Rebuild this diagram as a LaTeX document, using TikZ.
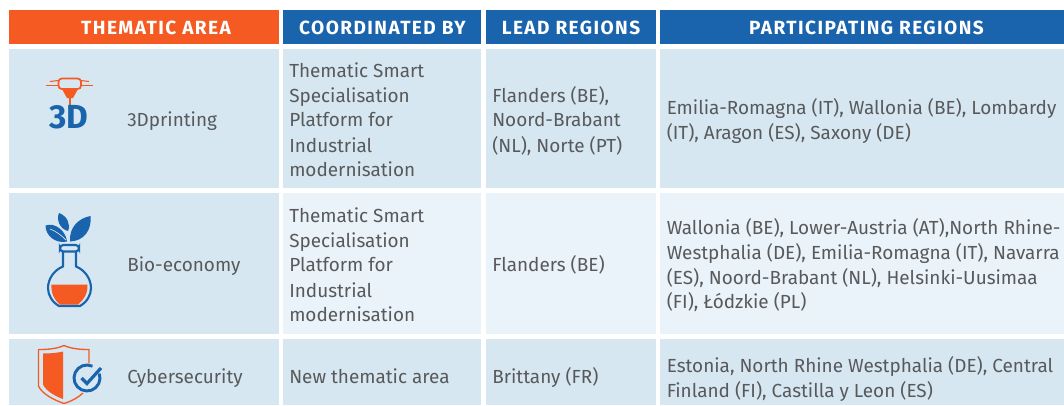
\documentclass[tikz,border=0pt]{standalone}
\usepackage{fontspec}
\setmainfont{Fira Sans}
\newfontfamily\hdrfont[LetterSpace=7.5]{Fira Sans}
\usetikzlibrary{calc}
\definecolor{eorange}{HTML}{F45A22}
\definecolor{eblue}{HTML}{1A63AD}
\definecolor{cella}{HTML}{D6E7F2}
\definecolor{cellb}{HTML}{EAF3F9}
\definecolor{txt}{HTML}{58595B}
\tikzset{
  x=0.75pt,y=-0.75pt,
  hdrbox/.style={fill=#1,draw=none},
  cell/.style={fill=#1,draw=none},
  hdrtext/.style={anchor=base,inner sep=0pt,text=white,font=\hdrfont\bfseries\fontsize{14.3}{16}\selectfont},
  body/.style={anchor=base west,inner sep=0pt,yshift=-0.4pt,text=txt,font=\fontsize{14.2}{16}\selectfont},
  oline/.style={draw=eorange,line width=1.3pt,fill=none},
  bline/.style={draw=eblue,line width=1.6pt,fill=none},
}
\begin{document}
\begin{tikzpicture}
\useasboundingbox (0,0) rectangle (1064,405);
\clip (0,0) rectangle (1064,405);
% headers
\fill[hdrbox=eorange] (9,10) rectangle (279,44);
\fill[hdrbox=eblue] (283,10) rectangle (481,44);
\fill[hdrbox=eblue] (486,10) rectangle (656,44);
\fill[hdrbox=eblue] (660,10) rectangle (1064,44);
\node[hdrtext] (h1) at (156,34) {THEMATIC AREA};
\node[hdrtext] (h2) at (382.5,34) {COORDINATED BY};
\node[hdrtext] (h3) at (571,34) {LEAD REGIONS};
\node[hdrtext] (h4) at (866.5,34) {PARTICIPATING REGIONS};
% row 1
\fill[cell=cella] (9,48.5) rectangle (279,188);
\fill[cell=cella] (283,48.5) rectangle (481,188);
\fill[cell=cella] (486,48.5) rectangle (656,188);
\fill[cell=cella] (660,48.5) rectangle (1064,188);
% row 2
\fill[cell=cella] (9,193) rectangle (279,334);
\fill[cell=cellb] (283,193) rectangle (481,334);
\fill[cell=cellb] (486,193) rectangle (656,334);
\fill[cell=cellb] (660,193) rectangle (1064,334);
% row 3
\fill[cell=cella] (9,339) rectangle (279,405);
\fill[cell=cella] (283,339) rectangle (481,405);
\fill[cell=cella] (486,339) rectangle (656,405);
\fill[cell=cella] (660,339) rectangle (1064,405);
% column 1
\node[body] (a1) at (127,125.5) {3Dprinting};
\node[body] (a2) at (127,271) {Bio-economy};
\node[body] (a3) at (127,382.5) {Cybersecurity};
% column 2
\node[body] (b1) at (289,76.5) {Thematic Smart};
\node[body] (b2) at (289,101.5) {Specialisation};
\node[body] (b3) at (289,126) {Platform for};
\node[body] (b4) at (289,151.5) {Industrial};
\node[body] (b5) at (289,176) {modernisation};
\node[body] (b6) at (289,221.5) {Thematic Smart};
\node[body] (b7) at (289,246.5) {Specialisation};
\node[body] (b8) at (289,271) {Platform for};
\node[body] (b9) at (289,296.5) {Industrial};
\node[body] (b10) at (289,321) {modernisation};
\node[body] (b11) at (289,382.5) {New thematic area};
% column 3
\node[body] (c1) at (492,101.5) {Flanders (BE),};
\node[body] (c2) at (492,126) {Noord-Brabant};
\node[body] (c3) at (492,151.5) {(NL), Norte (PT)};
\node[body] (c4) at (492,271) {Flanders (BE)};
\node[body] (c5) at (492,382.5) {Brittany (FR)};
% column 4
\node[body] (d1) at (666.5,113.5) {Emilia-Romagna (IT), Wallonia (BE), Lombardy};
\node[body] (d2) at (666.5,138.5) {(IT), Aragon (ES), Saxony (DE)};
\node[body] (d3) at (666.5,233.5) {Wallonia (BE), Lower-Austria (AT),North Rhine-};
\node[body] (d4) at (666.5,258.5) {Westphalia (DE), Emilia-Romagna (IT), Navarra};
\node[body] (d5) at (666.5,283.5) {(ES), Noord-Brabant (NL), Helsinki-Uusimaa};
\node[body] (d6) at (666.5,308) {(FI), Łódzkie (PL)};
\node[body] (d7) at (666.5,371.5) {Estonia, North Rhine Westphalia (DE), Central};
\node[body] (d8) at (666.5,396.5) {Finland (FI), Castilla y Leon (ES)};
% 3D icon
\draw[oline,rounded corners=2.5pt] (58.5,78.5) rectangle (81,89);
\draw[eorange,line width=1pt] (46,85.5) -- (58,85.5) (81,85.5) -- (93,85.5);
\draw[eorange,line width=0.8pt] (50,81.5) -- (58,80.5) (81,80.5) -- (89,81.5);
\fill[eorange] (62,89) -- (78,89) -- (73,98) -- (67,98) -- cycle;
\draw[eorange,line width=1.2pt] (70,97) -- (70,107);
\node[anchor=base,inner sep=0pt,text=eblue,font=\bfseries\fontsize{25}{26}\selectfont] (icon3d) at (69,128.5) {3D};
% flask icon
\fill[eorange] (51.5,284.5) -- (87.5,284.5) .. controls (88,293) and (84,300) .. (78,304.5) -- (60,304.5) .. controls (54,300) and (51,293) .. (51.5,284.5) -- cycle;
\draw[bline,line join=round] (63,251.5) -- (63,266.5) .. controls (54,270) and (48,279) .. (48,288)
  .. controls (48,295) and (52,302) .. (59,306) -- (80,306)
  .. controls (87,302) and (91,295) .. (91,288)
  .. controls (91,279) and (85,270) .. (76,266.5) -- (76,251.5);
\draw[bline,rounded corners=2.5pt] (60,245) rectangle (79,251.5);
\fill[eblue] (67,241.5) .. controls (66,231) and (55,222) .. (45.5,225.5) .. controls (45.5,236) and (56,244) .. (67,241.5) -- cycle;
\fill[eblue] (70,241.5) .. controls (69,227) and (79,218) .. (90.5,216) .. controls (92,230) and (84,241) .. (70,241.5) -- cycle;
\fill[eblue] (68,231) .. controls (71,224) and (67,216) .. (59,213) .. controls (56,220) and (60,229) .. (68,231) -- cycle;
\draw[cella,line width=0.5pt] (50,229) .. controls (56,231) and (62,236) .. (66,240);
% shield icon
\draw[draw=eorange,line width=1pt,line join=round] (64,345.5) .. controls (56,349) and (47,349.5) .. (38.5,349.5)
  -- (38.5,386) .. controls (42,394) and (54,400) .. (64,403.5)
  .. controls (72,401) and (79,397) .. (83,393)
  (89,363) -- (89,349.5) .. controls (81,349.5) and (72,349) .. (64,345.5);
\fill[eorange] (63,351.5) -- (63,399) .. controls (55,396) and (46,391) .. (43,384.5) -- (43,353.5) .. controls (50,353.5) and (57,353) .. (63,351.5) -- cycle;
\draw[draw=eblue,line width=2.2pt] (92.5,366.2) arc[start angle=-65,delta angle=-315,radius=13];
\draw[draw=eblue,line width=2.4pt,line join=miter] (81.5,378) -- (87,383.5) -- (101,368);
\end{tikzpicture}
\end{document}
